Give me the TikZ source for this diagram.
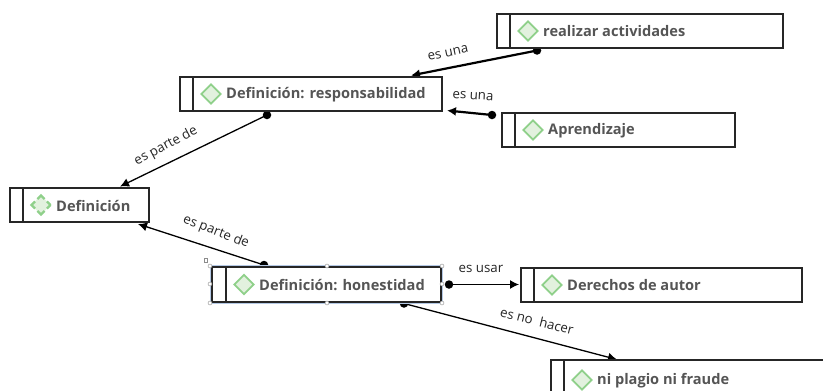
\documentclass[tikz,border=0pt]{standalone}
\usepackage{fontspec}
\setmainfont{Open Sans}
\newfontfamily\ttlfont{Open Sans}[UprightFont={* Bold}]
\newfontfamily\lblfont{Open Sans}
\usetikzlibrary{shapes.geometric,arrows.meta,calc}
\definecolor{txt}{HTML}{555555}
\definecolor{dgreen}{HTML}{8FD08A}
\definecolor{dfill}{HTML}{E2F1DE}
\definecolor{selblue}{HTML}{B4C8E4}
\tikzset{
  x=1pt,y=-1pt,
  box/.style={draw=black!85,line width=1.5pt,fill=white,inner sep=0,outer sep=0,anchor=north west},
  ico/.style={diamond,draw=dgreen,line width=1.8pt,fill=dfill,minimum width=20pt,minimum height=20pt,inner sep=0},
  ttl/.style={anchor=west,inner sep=0,text=txt,font=\ttlfont\fontsize{14.6}{17}\selectfont},
  lbl/.style={inner sep=0,text=black!85,font=\lblfont\fontsize{13.3}{15}\selectfont},
  rel/.style={draw=black,line width=1.3pt,-{Latex[length=9pt,width=9pt]}},
  relb/.style={rel,line width=2.2pt},
  dotend/.style={circle,fill=black,minimum size=8.5pt,inner sep=0},
  hdl/.style={circle,draw=black!45,fill=white,line width=0.4pt,minimum size=4pt,inner sep=0},
}
\newcommand{\cbox}[8][]{% opt ico, name, x1, y1, x2, y2, divider x, text
  \node[box,minimum width=#5-#3,minimum height=#6-#4] (#2) at (#3,#4) {};
  \draw[black!85,line width=1.4pt] (#7,#4) -- (#7,#6);
  \node[ico,#1] (#2i) at (#7+18,{(#4+#6)/2}) {};
  \node[ttl] (#2t) at (#7+33,{(#4+#6)/2+0.5}) {#8};
}
\begin{document}
\begin{tikzpicture}
\useasboundingbox (0,0) rectangle (823,391);
\clip (0,0) rectangle (823,391);
\fill[white] (0,0) rectangle (823,391);
% connector end points
\node[dotend] (d1) at (537,50.5) {};
\node[dotend] (d2) at (492,115) {};
\node[dotend] (d3) at (267,115) {};
\node[dotend] (d4) at (264,265) {};
\node[dotend] (d5) at (449,284.5) {};
\node[dotend] (d6) at (404,303.5) {};
\coordinate (t1) at (411,75.5);
\coordinate (t2) at (447,110.5);
\coordinate (t3) at (120,186.5);
\coordinate (t4) at (138,224);
\coordinate (t5) at (519,284.5);
\coordinate (t6) at (617,359.5);
\draw[relb] (d1.center) -- (t1);
\draw[relb] (d2.center) -- (t2);
\draw[rel] (d3.center) -- (t3);
\draw[rel] (d4.center) -- (t4);
\draw[rel] (d5.center) -- (t5);
\draw[rel] (d6.center) -- (t6);
\draw[selblue,line width=3.4pt] (212,267) rectangle (441,302);
\cbox{real}{497}{14}{783}{48}{510}{realizar actividades}
\cbox{resp}{180}{77}{442}{111}{193}{Definición: responsabilidad}
\cbox{apre}{502}{113}{735}{147}{515}{Aprendizaje}
\cbox[dash pattern=on 10pt off 3.5pt,dash phase=5pt,line width=2.2pt]{defi}{10}{188}{149}{222}{23}{Definición}
\cbox{hone}{212}{267}{441}{302}{226}{Definición: honestidad}
\cbox{dere}{521}{268}{802}{302}{534}{Derechos de autor}
\cbox{plag}{551}{360}{840}{400}{564}{ni plagio ni fraude}
\foreach \n/\a/\b in {h1/210/266,h2/327/266,h3/442/266,h4/210/284,h5/442/284,h6/210/303,h7/327/303,h8/442/303}
  \node[hdl] (\n) at (\a,\b) {};
\node[draw=black!45,fill=white,line width=0.4pt,minimum size=3.5pt,inner sep=0] (h0) at (205.5,260) {};
\node[lbl,rotate=12] (l1) at (448,53) {es una};
\node[lbl,rotate=-3] (l2) at (473,96) {es una};
\node[lbl,rotate=28] (l3) at (166,146) {es parte de};
\node[lbl,rotate=-21] (l4) at (216,232) {es parte de};
\node[lbl] (l5) at (481,269) {es usar};
\node[lbl,rotate=-14] (l6) at (537,321) {es no\ \ hacer};
\end{tikzpicture}
\end{document}
